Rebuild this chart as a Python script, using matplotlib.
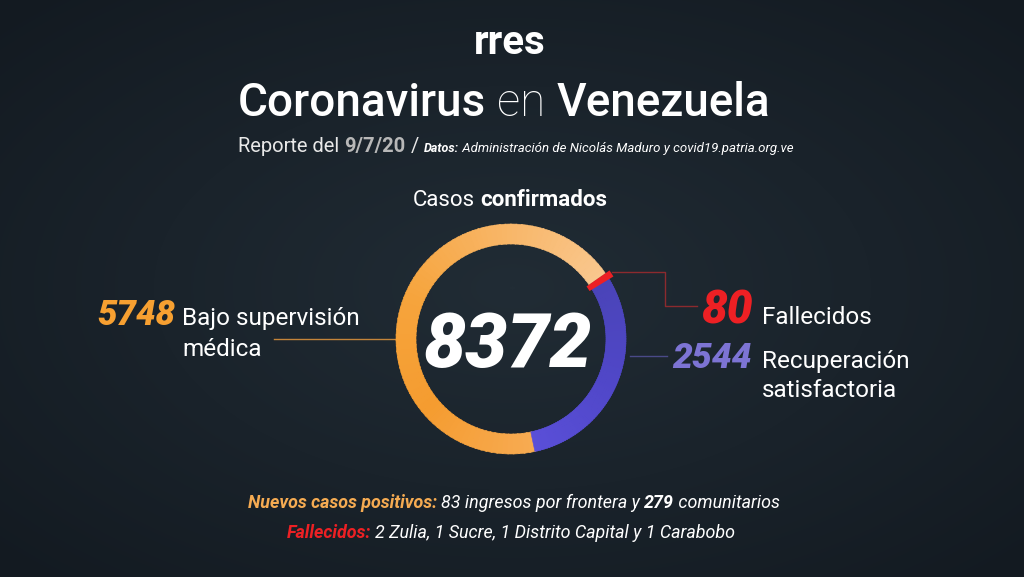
import matplotlib
matplotlib.use("Agg")
import matplotlib.pyplot as plt
import numpy as np
from matplotlib.colors import LinearSegmentedColormap
from matplotlib.patches import Wedge

plt.rcParams["font.family"] = ["Roboto", "DejaVu Sans"]

# data
categories = ["Bajo supervisión médica", "Fallecidos", "Recuperación satisfactoria"]
values = [5748, 80, 2544]
total = 8372
report_date = "9/7/20"
new_border = 83
new_community = 279
deaths_detail = "2 Zulia, 1 Sucre, 1 Distrito Capital y 1 Carabobo"

W, H = 1024, 577
BG = "#1b242c"
ORANGE = "#f7a031"
RED = "#ed2024"
PURPLE = "#7d74d4"

fig = plt.figure(figsize=(W / 100, H / 100), dpi=100)
ax = fig.add_axes([0, 0, 1, 1])
ax.set_xlim(0, W)
ax.set_ylim(0, H)
ax.set_aspect("equal")
ax.axis("off")

# background with a soft vignette
yy, xx = np.mgrid[0:H, 0:W]
d = np.sqrt(((xx - W / 2) / (W / 2)) ** 2 + ((yy - H / 2) / (H / 2)) ** 2)
bg_cmap = LinearSegmentedColormap.from_list("bg", ["#212c35", "#1a232b", "#131a21"])
ax.imshow(d, cmap=bg_cmap, extent=(0, W, 0, H), origin="lower", vmin=0, vmax=1.4, zorder=0)


def Y(y):
    return H - y


renderer = fig.canvas.get_renderer()


def text_w(s, **kw):
    t = ax.text(0, 0, s, **kw)
    w = t.get_window_extent(renderer).width
    t.remove()
    return w


def rich(x, y, parts, ha="center"):
    # parts: (text, style dict); a trailing space adds a measured gap
    widths = []
    for s, kw in parts:
        core = s.rstrip(" ")
        w = text_w(core, **kw) if core else 0
        if s.endswith(" "):
            w += text_w("a a", **kw) - text_w("aa", **kw)
        widths.append(w)
    total_w = sum(widths)
    x0 = x - total_w / 2 if ha == "center" else x
    for (s, kw), w in zip(parts, widths):
        core = s.rstrip(" ")
        if core:
            ax.text(x0, Y(y), core, ha="left", va="baseline", zorder=5, **kw)
        x0 += w


# header
ax.text(510, Y(54), "rres", ha="center", va="baseline", color="white",
        fontsize=29, fontweight="bold", zorder=5)
rich(504, 116, [
    ("Coronavirus ", dict(color="white", fontsize=33, fontweight="medium")),
    ("en ", dict(color="white", fontsize=33, fontweight="light")),
    ("Venezuela", dict(color="white", fontsize=33, fontweight="medium")),
])
rich(516, 152, [
    ("Reporte del ", dict(color="#e8e8e8", fontsize=14.5)),
    (report_date + " ", dict(color="#b8b8b8", fontsize=14.5, fontweight="bold")),
    ("/ ", dict(color="#e8e8e8", fontsize=14.5)),
    ("Datos:", dict(color="white", fontsize=9, fontweight="bold", style="italic")),
    (" Administración de Nicolás Maduro y covid19.patria.org.ve",
     dict(color="white", fontsize=9.5, style="italic")),
])
rich(510, 206, [
    ("Casos ", dict(color="white", fontsize=16)),
    ("confirmados", dict(color="white", fontsize=16, fontweight="bold")),
])

# ring
cx, cy, r_out, ring_w = 511, Y(339), 115, 20
wedges, _ = ax.pie(values, startangle=-78, counterclock=False, center=(cx, cy),
                   radius=r_out, wedgeprops=dict(width=ring_w, linewidth=0),
                   frame=True)
ax.set_xlim(0, W)
ax.set_ylim(0, H)
ax.axis("off")

grads = [
    ["#f7ab52", "#f59c30", "#f6a43c", "#f8b565", "#f9c78e"],
    None,
    ["#4a44b8", "#5047c8", "#5a4fd8"],
]
for wdg, g in zip(wedges, grads):
    if g is None:
        continue
    cmap = LinearSegmentedColormap.from_list("seg", g)
    t1, t2 = wdg.theta1, wdg.theta2
    n = 90
    edges = np.linspace(t1, t2, n + 1)
    # theta1 is the clockwise end of the segment, so reverse the ramp
    for i in range(n):
        c = cmap(1 - (i + 0.5) / n)
        ax.add_patch(Wedge((cx, cy), r_out, edges[i], edges[i + 1] + 0.6,
                           width=ring_w, facecolor=c, edgecolor=c, linewidth=0.4,
                           zorder=2))
    wdg.set_visible(False)

red = wedges[1]
red.set_radius(r_out + 5)
red.set_width(ring_w + 8)
red.set_facecolor(RED)
red.set_zorder(3)

ax.text(508, Y(339), str(total), ha="center", va="center_baseline", color="white",
        fontsize=54, fontweight="black", style="italic", zorder=5)

# connectors
ax.plot([274, 395], [Y(339), Y(339)], color="#c4843a", lw=1, zorder=1)
ax.plot([612, 665, 665, 697], [Y(272), Y(272), Y(306), Y(306)], color="#8c2a2e", lw=1, zorder=1)
ax.plot([630, 667], [Y(356), Y(356)], color="#4a4a88", lw=1, zorder=1)

# side labels
lab = dict(color="white", fontsize=17.5)
ax.text(175, Y(325), f"{values[0]}", ha="right", va="baseline", color=ORANGE,
        fontsize=25, fontweight="black", style="italic", zorder=5)
ax.text(182, Y(325), "Bajo supervisión", ha="left", va="baseline", zorder=5, **lab)
ax.text(182, Y(356), "médica", ha="left", va="baseline", zorder=5, **lab)

ax.text(753, Y(324), f"{values[1]}", ha="right", va="baseline", color=RED,
        fontsize=33, fontweight="black", style="italic", zorder=5)
ax.text(762, Y(324), "Fallecidos", ha="left", va="baseline", zorder=5, **lab)

ax.text(752, Y(368), f"{values[2]}", ha="right", va="baseline", color=PURPLE,
        fontsize=25.5, fontweight="black", style="italic", zorder=5)
ax.text(762, Y(368), "Recuperación", ha="left", va="baseline", zorder=5, **lab)
ax.text(762, Y(397), "satisfactoria", ha="left", va="baseline", zorder=5, **lab)

# footer
fs = 12.9
rich(514, 508, [
    ("Nuevos casos positivos: ", dict(color="#f5ab52", fontsize=fs, fontweight="bold", style="italic")),
    (f"{new_border} ingresos por frontera y ", dict(color="white", fontsize=fs, style="italic")),
    (f"{new_community}", dict(color="white", fontsize=fs, fontweight="bold", style="italic")),
    (" comunitarios", dict(color="white", fontsize=fs, style="italic")),
])
rich(511, 538, [
    ("Fallecidos: ", dict(color=RED, fontsize=fs, fontweight="bold", style="italic")),
    (deaths_detail, dict(color="white", fontsize=fs, style="italic")),
])

fig.savefig("out.png", dpi=100, facecolor=BG)
